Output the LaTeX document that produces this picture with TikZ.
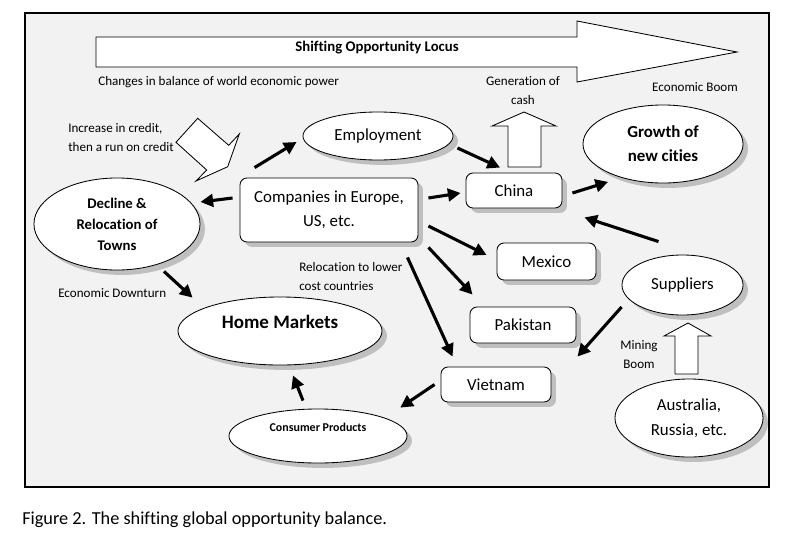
\documentclass[tikz,border=0pt]{standalone}
\usepackage{fontspec}
\setmainfont{Carlito}[Ligatures=NoCommon]
\usetikzlibrary{arrows.meta,shapes.geometric,shadows}

\begin{document}
\begin{tikzpicture}[x=0.025cm, y=-0.025cm,
  dropshade/.style={drop shadow={shadow xshift=3.5pt, shadow yshift=-3.5pt, fill=black!25, opacity=1}},
  ovalnode/.style={draw, ellipse, fill=white, line width=0.6pt, inner sep=0pt, align=center, dropshade, font=\fontsize{12}{17}\selectfont},
  countrybox/.style={draw, rounded corners=5pt, fill=white, line width=0.6pt, inner sep=0pt, align=center, dropshade, font=\fontsize{12}{17}\selectfont},
  flowarrow/.style={line width=2.2pt, -{Triangle[length=9pt,width=9pt]}},
  blockarrow/.style={draw, fill=white, line width=0.6pt, line join=miter},
  smalltext/.style={inner sep=0pt, align=left, font=\fontsize{9.3}{13.5}\selectfont}]
\useasboundingbox (0,0) rectangle (799,540);

% frame
\draw[line width=1.2pt, fill=black!5] (25,13) rectangle (769,487);

% block arrows
\draw[blockarrow] (96,37) -- (577,37) -- (577,21) -- (737,52) -- (577,82) -- (577,67) -- (96,67) -- cycle;
\node[font=\bfseries\fontsize{10.5}{12}\selectfont] (locus) at (377,48) {Shifting Opportunity Locus};
\draw[blockarrow] (197.7,118.3) -- (228.7,145.3) -- (239.3,134) -- (227.7,166.7) -- (196,181) -- (206.7,170) -- (176,142.3) -- cycle;
\draw[blockarrow] (508,167) -- (508,126) -- (492,126) -- (524,112) -- (556,126) -- (541,126) -- (541,167) -- cycle;
\draw[blockarrow] (675,374) -- (675,336) -- (664,336) -- (688,323) -- (711,336) -- (698,336) -- (698,374) -- cycle;

% nodes
\node[ovalnode, minimum width=3.75cm, minimum height=1.2cm] (emp) at (378,136) {Employment};
\node[countrybox, minimum width=4.45cm, minimum height=1.6cm] (comp) at (329,210) {Companies in Europe,\\US, etc.};
\node[ovalnode, minimum width=4.15cm, minimum height=2.3cm, font=\bfseries\fontsize{10.5}{15}\selectfont] (decline) at (117,224) {Decline \&\\Relocation of\\Towns};
\node[ovalnode, minimum width=5.1cm, minimum height=1.7cm] (home) at (280,331) {};
\node[font=\bfseries\fontsize{13.5}{16}\selectfont] (homelabel) at (280,322) {Home Markets};
\node[countrybox, minimum width=2.4cm, minimum height=0.875cm] (china) at (514,190.5) {China};
\node[ovalnode, minimum width=4cm, minimum height=1.95cm, font=\bfseries\fontsize{12}{17}\selectfont] (growth) at (663,144) {Growth of\\new cities};
\node[countrybox, minimum width=2.475cm, minimum height=0.925cm] (mexico) at (546.5,261.5) {Mexico};
\node[countrybox, minimum width=2.65cm, minimum height=0.9cm] (pakistan) at (523,325) {Pakistan};
\node[ovalnode, minimum width=3.025cm, minimum height=1.5cm] (suppliers) at (682.5,285) {Suppliers};
\node[countrybox, minimum width=2.75cm, minimum height=0.875cm] (vietnam) at (496,384.5) {Vietnam};
\node[ovalnode, minimum width=3.7cm, minimum height=1.95cm, font=\fontsize{12}{18}\selectfont] (australia) at (689,418) {Australia,\\Russia, etc.};
\node[ovalnode, minimum width=4.45cm, minimum height=1.35cm] (consumer) at (318,436) {};
\node[font=\bfseries\fontsize{8.5}{10}\selectfont] (consumerlabel) at (318,427) {Consumer Products};

% labels
\node[smalltext, anchor=west] (power) at (98,82) {Changes in balance of world economic power};
\node[smalltext, align=center] (cash) at (523,91) {Generation of\\cash};
\node[smalltext] (boom) at (695,87) {Economic Boom};
\node[smalltext, anchor=west] (credit) at (68,137.5) {Increase in credit,\\then a run on credit};
\node[smalltext, anchor=west] (downturn) at (58,293) {Economic Downturn};
\node[smalltext, anchor=west] (relocation) at (299,276.5) {Relocation to lower\\cost countries};
\node[smalltext, align=center] (mining) at (639,354.5) {Mining\\Boom};
\node[inner sep=0pt, anchor=west, font=\fontsize{13}{15}\selectfont] (caption) at (22,520) {Figure 2. The shifting global opportunity balance.};

% flows
\draw[flowarrow] ([shift={(15,-10)}]comp.north west) -- ([shift={(-6,6)}]emp.west);
\draw[flowarrow] ([shift={(-7,-12)}]comp.west) -- ([shift={(0,-22)}]decline.east);
\draw[flowarrow] ([shift={(4,12)}]emp.east) -- ([shift={(-14,-5)}]china.north);
\draw[flowarrow] ([shift={(10,-12)}]comp.east) -- ([shift={(-5,2.5)}]china.west);
\draw[flowarrow] ([shift={(10,2.5)}]china.east) -- ([shift={(2,10)}]growth.south west);
\draw[flowarrow] ([shift={(-24,-13)}]suppliers.north) -- ([shift={(22,9)}]china.south east);
\draw[flowarrow] ([shift={(10,16)}]comp.east) -- ([shift={(-10,-6.5)}]mexico.west);
\draw[flowarrow] ([shift={(10,5)}]comp.south east) -- ([shift={(3,-12)}]pakistan.north west);
\draw[flowarrow] ([shift={(-11,15)}]comp.south east) -- ([shift={(12,-10)}]vietnam.north west);
\draw[flowarrow] ([shift={(0,22)}]suppliers.west) -- ([shift={(26,-10)}]vietnam.north east);
\draw[flowarrow] ([shift={(-6,0)}]vietnam.west) -- ([shift={(19,-9)}]consumer.north east);
\draw[flowarrow] ([shift={(-15,-8)}]consumer.north) -- ([shift={(13,10)}]home.south);
\draw[flowarrow] ([shift={(47,1)}]decline.south) -- ([shift={(-15,-9)}]home.north west);
\end{tikzpicture}
\end{document}
